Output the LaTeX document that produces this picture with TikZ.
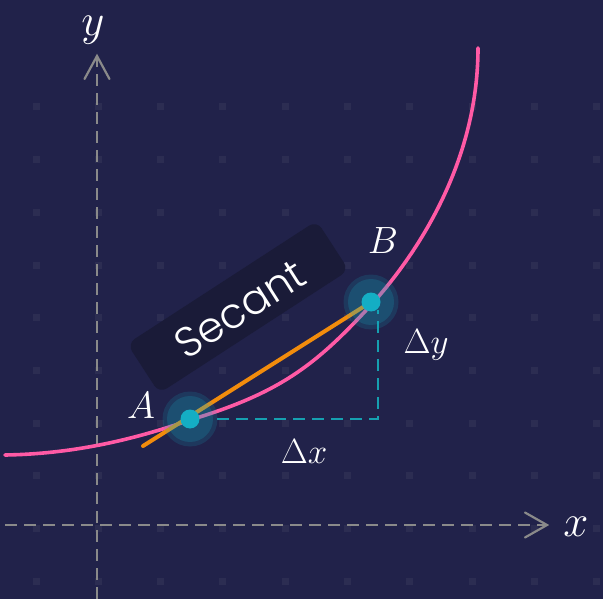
\RequirePackage{fix-cm}
\documentclass[tikz,border=0pt]{standalone}
\usepackage{fontspec}
\newfontfamily\popp{Poppins}[UprightFont={* Light}]
\definecolor{bg}{HTML}{21224A}
\definecolor{boxc}{HTML}{1A1B38}
\definecolor{gdot}{HTML}{2C2D52}
\definecolor{axisc}{HTML}{8A8A8A}
\definecolor{curvec}{HTML}{FF5AA5}
\definecolor{orangec}{HTML}{F28C0C}
\definecolor{tealc}{HTML}{14AEC4}
\definecolor{dashc}{HTML}{16A0B0}
\tikzset{
  axisline/.style={draw=axisc, line width=2.2pt, dash pattern=on 12pt off 7pt},
  axistip/.style={draw=axisc, line width=2.2pt, solid, line cap=round, line join=miter},
  pointdot/.style={circle, fill=tealc, inner sep=0pt, minimum size=19pt},
  glow/.style={fill=tealc, fill opacity=0.16},
  glowin/.style={fill=tealc, fill opacity=0.20},
  lbl/.style={text=white, inner sep=0pt},
  helper/.style={draw=dashc, line width=2pt, dash pattern=on 12pt off 7pt},
}
\begin{document}
\begin{tikzpicture}[x=1pt,y=-1pt]
\useasboundingbox (0,0) rectangle (603,599);
\fill[bg] (0,0) rectangle (603,599);
% grid dots
\foreach \i in {0,...,9}{
  \foreach \j in {0,...,9}{
    \fill[gdot] ({36+62.3*\i-3.5},{107+52.7*\j-3.5}) rectangle ++(7,7);
  }
}
% axes
\coordinate (ybot) at (97,599);
\coordinate (ytip) at (97,56);
\coordinate (xleft) at (5,525);
\coordinate (xtip) at (547,525);
\draw[axisline] (ybot) -- (ytip);
\draw[axisline] (xleft) -- (xtip);
\draw[axistip] (84.5,79) -- (ytip) -- (109.5,79);
\draw[axistip] (525,512.5) -- (xtip) -- (525,537.5);
\node[lbl, font=\fontsize{45}{45}\selectfont] (ylab) at (93,30) {$y$};
\node[lbl, font=\fontsize{45}{45}\selectfont] (xlab) at (576,527) {$x$};
% secant label box
\node[fill=boxc, rounded corners=9pt, minimum width=226pt, minimum height=59pt,
      rotate=33, inner sep=0pt] (secbox) at (238,307) {};
\node[text=white, rotate=32.5, inner sep=0pt, font=\popp\fontsize{42}{42}\selectfont] (seclab) at (240,309) {Secant};
% curve
\coordinate (cstart) at (5,455);
\coordinate (cA) at (190,420);
\coordinate (cmid) at (371,305);
\coordinate (cend) at (478,48);
\draw[curvec, line width=3.6pt, line cap=round]
  (cstart) .. controls (70,454) and (130,441) .. (cA)
           .. controls (280,393) and (316,365) .. (cmid)
           .. controls (411,261) and (478,168) .. (cend);
% points
\coordinate (Apos) at (190,419);
\coordinate (Bpos) at (371,302);
\coordinate (C) at (378,419);
\coordinate (Cs) at (217,419);
\coordinate (Ce) at (378,310);
\draw[helper] (Cs) -- (C) -- (Ce);
\coordinate (ostart) at (143,446);
\draw[orangec, line width=4pt, line cap=round] (ostart) -- (Bpos);
\foreach \p in {Apos,Bpos}{
  \fill[glow] (\p) circle (27.5pt);
  \fill[glowin] (\p) circle (23pt);
}
\node[pointdot] (A) at (Apos) {};
\node[pointdot] (B) at (Bpos) {};
% labels
\node[lbl, font=\fontsize{38}{38}\selectfont] (Alab) at (141,406) {$A$};
\node[lbl, font=\fontsize{38}{38}\selectfont] (Blab) at (383,241) {$B$};
\node[lbl, font=\fontsize{35}{35}\selectfont] (dy) at (426,345) {$\Delta y$};
\node[lbl, font=\fontsize{35}{35}\selectfont] (dx) at (304,452) {$\Delta x$};
\end{tikzpicture}
\end{document}
